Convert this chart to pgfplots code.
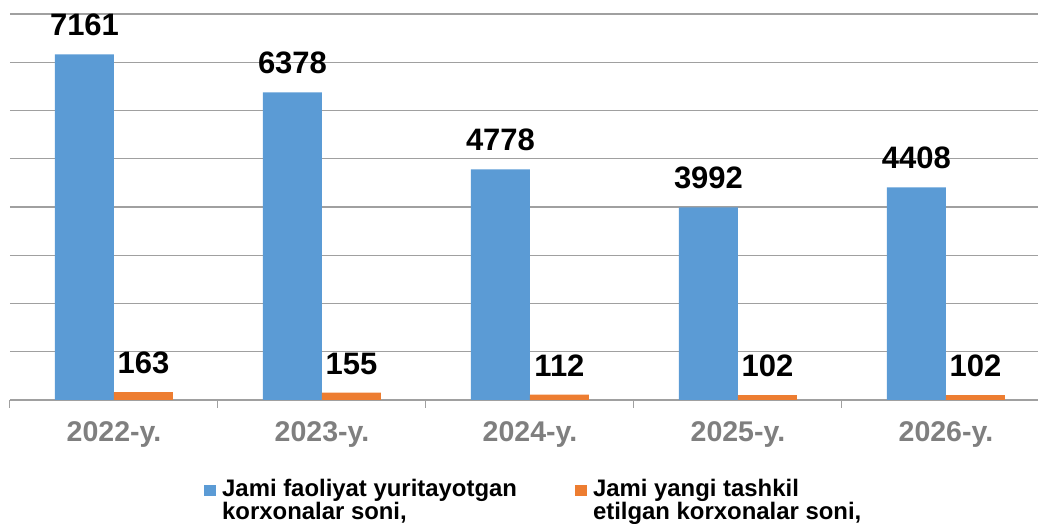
\documentclass[border=0pt]{standalone}
\usepackage{pgfplots}
\pgfplotsset{compat=1.18}
\usepackage{fontspec}
\setmainfont{Liberation Sans}
\definecolor{cblue}{RGB}{91,155,213}
\definecolor{corange}{RGB}{237,125,49}
\definecolor{gridgray}{RGB}{160,160,160}
\definecolor{labgray}{RGB}{127,127,127}
\begin{document}
\begin{tikzpicture}[x=1pt,y=1pt]
\path[use as bounding box] (0,0) rectangle (1038,524);
\begin{axis}[
  at={(10pt,124pt)}, anchor=south west,
  scale only axis, width=1028pt, height=386pt,
  xmin=-0.5, xmax=4.4423, ymin=0, ymax=8000,
  axis x line=bottom, axis y line=left,
  x axis line style={-, draw=gridgray, line width=1.2pt},
  y axis line style={draw=none},
  ytick={0,1000,...,8000}, yticklabels={}, ymajorgrids,
  grid style={draw=gridgray, line width=1.2pt},
  xtick={0,1,2,3,4},
  xticklabels={2022-y.,2023-y.,2024-y.,2025-y.,2026-y.},
  tick align=outside,
  major tick length=0pt,
  minor xtick={-0.5,0.5,1.5,2.5,3.5},
  minor tick length=8pt,
  minor x tick style={draw=gridgray, line width=1pt},
  xticklabel style={font=\fontsize{28.5}{32}\selectfont\bfseries, text=labgray, anchor=base, yshift=-42pt},
  ybar=0pt, bar width=59pt,
  nodes near coords={\pgfmathprintnumber[1000 sep={},assume math mode=true,fixed,precision=0]{\pgfplotspointmeta}},
  every node near coord/.append style={font=\fontsize{31}{38}\selectfont\bfseries, text=black, anchor=south, inner sep=0pt, yshift=18pt},
  legend columns=2,
  legend cell align=left,
  legend image code/.code={\fill[#1] (0pt,4pt) rectangle (12pt,15pt);},
  legend style={draw=none, fill=none, inner sep=0pt,
    at={(0.1887,-0.2036)}, anchor=north west,
    font=\fontsize{23.9}{23}\selectfont\bfseries,
    nodes={align=left, inner sep=0pt},
    /tikz/every odd column/.append style={column sep=6pt},
    /tikz/every even column/.append style={column sep=58pt}},
]
\addplot[fill=cblue, draw=none] coordinates {(0,7161) (1,6378) (2,4778) (3,3992) (4,4408)};
\addplot[fill=corange, draw=none] coordinates {(0,163) (1,155) (2,112) (3,102) (4,102)};
\legend{{Jami faoliyat yuritayotgan\\korxonalar soni,}, {Jami yangi tashkil\\etilgan korxonalar soni,}}
\end{axis}
\end{tikzpicture}
\end{document}
